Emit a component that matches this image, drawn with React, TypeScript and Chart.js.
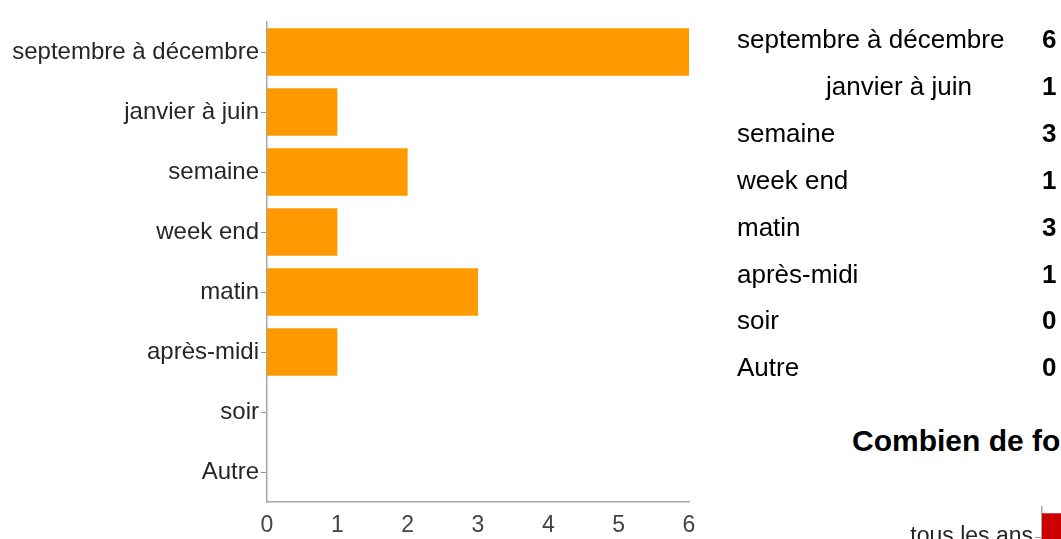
import React, { useEffect, useRef } from "react";
import { Chart, registerables } from "chart.js";

Chart.register(...registerables);

// Left bar chart (as drawn in the picture)
const categories = [
  "septembre à décembre",
  "janvier à juin",
  "semaine",
  "week end",
  "matin",
  "après-midi",
  "soir",
  "Autre",
];
const barValues = [6, 1, 2, 1, 3, 1, 0, 0];
const xTicks = [0, 1, 2, 3, 4, 5, 6];

// Summary table on the right
const tableLabels = [
  "septembre à décembre",
  "janvier à juin",
  "semaine",
  "week end",
  "matin",
  "après-midi",
  "soir",
  "Autre",
];
const tableCounts = [6, 1, 3, 1, 3, 1, 0, 0];

// Next question (cut off at the bottom right)
const nextTitle = "Combien de fo";
const nextCategories = ["tous les ans"];
const nextValues = [4];

const FONT = "'Liberation Sans', Arial, Helvetica, sans-serif";

export default function App() {
  const mainRef = useRef<HTMLCanvasElement | null>(null);
  const nextRef = useRef<HTMLCanvasElement | null>(null);

  useEffect(() => {
    document.body.style.margin = "0";
    const charts: Chart[] = [];
    if (mainRef.current) {
      charts.push(
        new Chart(mainRef.current, {
          type: "bar",
          data: {
            labels: categories,
            datasets: [
              {
                data: barValues,
                backgroundColor: "#ff9900",
                borderWidth: 0,
                barPercentage: 0.79,
                categoryPercentage: 1,
              },
            ],
          },
          options: {
            indexAxis: "y",
            animation: false,
            responsive: false,
            maintainAspectRatio: false,
            layout: { padding: { top: 22, right: 11, left: 0, bottom: 0 } },
            plugins: { legend: { display: false }, tooltip: { enabled: false } },
            scales: {
              x: {
                type: "linear",
                min: 0,
                max: 6,
                afterBuildTicks: (scale: any) => {
                  scale.ticks = xTicks.map((v) => ({ value: v }));
                },
                afterFit: (scale: any) => {
                  scale.height = 37;
                  scale.paddingLeft = 0;
                  scale.paddingRight = 0;
                },
                grid: { display: false, drawTicks: false },
                border: { display: true, color: "#a8a8a8", width: 1.5 },
                ticks: {
                  padding: 10,
                  color: "#444",
                  font: { family: FONT, size: 23 },
                },
              },
              y: {
                type: "category",
                afterFit: (scale: any) => {
                  scale.width = 267;
                  scale.paddingTop = 0;
                  scale.paddingBottom = 0;
                },
                grid: {
                  display: true,
                  drawOnChartArea: false,
                  offset: false,
                  tickLength: 6,
                  color: "#999",
                },
                border: { display: true, color: "#a8a8a8", width: 1.5 },
                ticks: {
                  padding: 2,
                  color: "#262626",
                  font: { family: FONT, size: 24 },
                },
              },
            },
          },
        } as any)
      );
    }
    if (nextRef.current) {
      charts.push(
        new Chart(nextRef.current, {
          type: "bar",
          data: {
            labels: nextCategories,
            datasets: [
              {
                data: nextValues,
                backgroundColor: "#cc0000",
                borderWidth: 0,
                barPercentage: 0.79,
                categoryPercentage: 1,
              },
            ],
          },
          options: {
            indexAxis: "y",
            animation: false,
            responsive: false,
            maintainAspectRatio: false,
            layout: { padding: { top: 6, right: 0, left: 0, bottom: 0 } },
            plugins: { legend: { display: false }, tooltip: { enabled: false } },
            scales: {
              x: {
                type: "linear",
                min: 0,
                max: 6,
                display: false,
              },
              y: {
                type: "category",
                afterFit: (scale: any) => {
                  scale.width = 242;
                  scale.paddingTop = 0;
                  scale.paddingBottom = 0;
                },
                grid: {
                  display: true,
                  drawOnChartArea: false,
                  offset: false,
                  tickLength: 7,
                  color: "#999",
                },
                border: { display: true, color: "#a8a8a8", width: 1.5 },
                ticks: {
                  padding: 2,
                  color: "#262626",
                  font: { family: FONT, size: 23 },
                },
              },
            },
          },
        } as any)
      );
    }
    return () => charts.forEach((c) => c.destroy());
  }, []);

  const rowH = 46.9;
  return (
    <div
      style={{
        position: "fixed",
        left: 0,
        top: 0,
        width: 1061,
        height: 539,
        overflow: "hidden",
        background: "#fff",
        fontFamily: FONT,
      }}
    >
      <canvas
        ref={mainRef}
        width={700}
        height={539}
        style={{ position: "absolute", left: 0, top: 0, width: 700, height: 539 }}
      />
      {tableLabels.map((lab, i) => (
        <div
          key={lab}
          style={{
            position: "absolute",
            left: 0,
            top: 16 + i * rowH,
            width: 1061,
            height: rowH,
            lineHeight: rowH + "px",
            fontSize: 26,
            color: "#000",
            whiteSpace: "nowrap",
          }}
        >
          <span style={{ position: "absolute", left: i === 1 ? 826 : 737 }}>{lab}</span>
          <span style={{ position: "absolute", left: 1042, fontWeight: "bold" }}>
            {tableCounts[i]}
          </span>
        </div>
      ))}
      <div
        style={{
          position: "absolute",
          left: 852,
          top: 426,
          fontSize: 30,
          lineHeight: "30px",
          fontWeight: "bold",
          color: "#000",
          whiteSpace: "nowrap",
        }}
      >
        {nextTitle}
      </div>
      <canvas
        ref={nextRef}
        width={400}
        height={66}
        style={{ position: "absolute", left: 800, top: 501, width: 400, height: 66 }}
      />
    </div>
  );
}
